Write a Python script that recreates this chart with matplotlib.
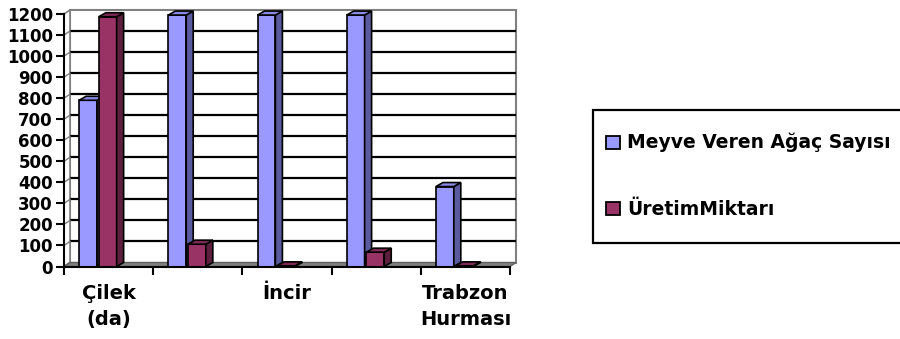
import matplotlib
matplotlib.use('Agg')
import matplotlib.pyplot as plt
from matplotlib.patches import Polygon, Rectangle

# fruit categories (only every other one gets a visible label on the axis)
categories = ['Çilek\n(da)', '', 'İncir', '', 'Trabzon\nHurması']
agac_sayisi = [790, 1195, 1195, 1195, 380]
uretim = [1187, 106, 3, 68, 3]
series_names = ['Meyve Veren Ağaç Sayısı', 'ÜretimMiktarı']
yticks = list(range(0, 1300, 100))

BLUE = ('#9999FF', '#8A8AE6', '#5A5A9E')   # front, top, side
RED = ('#993366', '#7E2A55', '#5C1F3D')

W, H = 900, 339
fig = plt.figure(figsize=(9, 3.39), dpi=100)
x0px, x1px, y0px, y1px = 64, 510, 266.5, 14
ax = fig.add_axes([x0px / W, 1 - y0px / H, (x1px - x0px) / W, (y0px - y1px) / H])
ax.set_xlim(-0.5, 4.5)
ax.set_ylim(0, 1200)
ax.patch.set_visible(False)

pxx = (x1px - x0px) / 5.0        # pixels per category
pxy = (y0px - y1px) / 1200.0     # pixels per unit
DX, DY = 6 / pxx, 4 / pxy        # depth of the walls
BDX, BDY = 7 / pxx, 4 / pxy      # depth of the columns

xl, xr, top = -0.5, 4.5, 1200
gray = '#808080'

# back wall, side wall and floor
ax.add_patch(Polygon([(xl + DX, DY), (xr + DX, DY), (xr + DX, top + DY), (xl + DX, top + DY)],
                     facecolor='white', edgecolor=gray, lw=1.5, zorder=0, clip_on=False))
ax.add_patch(Polygon([(xl, 0), (xl + DX, DY), (xl + DX, top + DY), (xl, top)],
                     facecolor='white', edgecolor=gray, lw=1.2, zorder=0, clip_on=False))
for v in yticks[1:-1]:
    ax.plot([xl + DX, xr + DX], [v + DY, v + DY], color='black', lw=1.6, zorder=1,
            clip_on=False, solid_capstyle='butt')
    ax.plot([xl, xl + DX], [v, v + DY], color=gray, lw=1.0, zorder=1, clip_on=False)
ax.add_patch(Polygon([(xl, 0), (xr, 0), (xr + DX, DY), (xl + DX, DY)],
                     facecolor=gray, edgecolor='#606060', lw=1.0, zorder=1, clip_on=False))


def column(x, w, h, colors, z):
    front, topc, side = colors
    ax.bar(x, h, width=w, align='edge', color=front, edgecolor='black', lw=1.2, zorder=z)
    ax.add_patch(Polygon([(x + w, 0), (x + w + BDX, BDY), (x + w + BDX, h + BDY), (x + w, h)],
                         facecolor=side, edgecolor='black', lw=1.2, zorder=z, clip_on=False))
    ax.add_patch(Polygon([(x, h), (x + w, h), (x + w + BDX, h + BDY), (x + BDX, h + BDY)],
                         facecolor=topc, edgecolor='black', lw=1.2, zorder=z, clip_on=False))


bw = 0.2
for i in range(len(categories)):
    column(i - 0.33, bw, agac_sayisi[i], BLUE, 3)
    column(i - 0.11, bw, uretim[i], RED, 4)

for s in ['top', 'right']:
    ax.spines[s].set_visible(False)
for s in ['left', 'bottom']:
    ax.spines[s].set_linewidth(1.5)
    ax.spines[s].set_zorder(5)

font = 'DejaVu Sans'
ax.set_yticks(yticks)
ax.set_yticklabels([str(v) for v in yticks], fontsize=12, fontweight='bold', family=font)
ax.tick_params(axis='y', direction='out', length=6, width=1.5, pad=2)

ax.set_xticks(range(len(categories)))
ax.set_xticklabels(categories, fontsize=14, fontweight='bold', family=font, linespacing=1.45)
ax.set_xticks([i - 0.5 for i in range(len(categories) + 1)], minor=True)
ax.tick_params(axis='x', which='major', length=0, pad=12.5)
ax.tick_params(axis='x', which='minor', direction='out', length=6, width=1.5)

# legend box, running off the right edge
def fx(px):
    return px / W


def fy(py):
    return 1 - py / H


fig.add_artist(Rectangle((fx(593), fy(243)), fx(920 - 593), (243 - 110) / H,
                         transform=fig.transFigure, facecolor='white', edgecolor='black', lw=1.6))
for name, color, base in [(series_names[0], BLUE[0], 148.5), (series_names[1], RED[0], 215)]:
    fig.add_artist(Rectangle((fx(606), fy(base)), 14 / W, 13 / H, transform=fig.transFigure,
                             facecolor=color, edgecolor='black', lw=1.3))
    fig.text(fx(627), fy(base), name, fontsize=13.5, fontweight='bold', family=font,
             va='baseline', ha='left')

fig.savefig('out.png', dpi=100)
